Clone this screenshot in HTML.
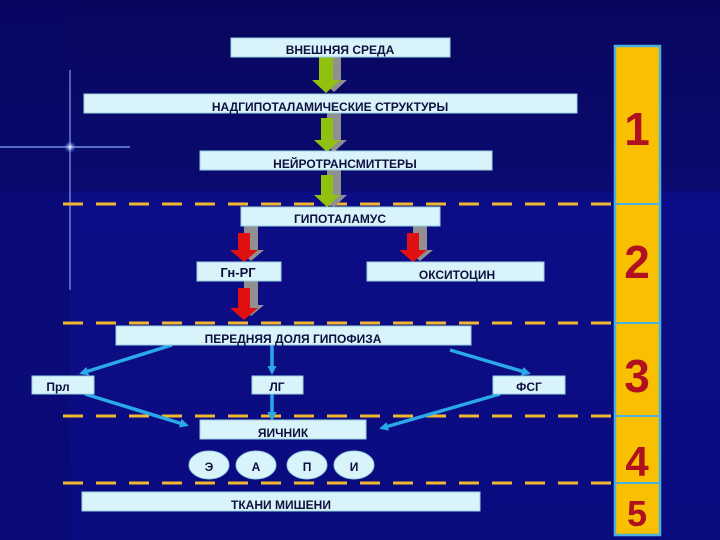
<!DOCTYPE html>
<html><head><meta charset="utf-8"><style>
body{margin:0;width:720px;height:540px;overflow:hidden;background:#0a0a6a;}
svg{display:block}
text{font-family:"Liberation Sans",sans-serif;font-weight:bold;fill:#101040;}
</style></head><body>
<svg width="720" height="540" viewBox="0 0 720 540">
<defs>
<linearGradient id="bg" x1="0" y1="0" x2="0" y2="1"><stop offset="0" stop-color="#07075e"/><stop offset="0.35" stop-color="#0a0a70"/><stop offset="0.36" stop-color="#0c0c86"/><stop offset="1" stop-color="#0b0b80"/></linearGradient>
<radialGradient id="fl"><stop offset="0" stop-color="#fff"/><stop offset="1" stop-color="#4080ff" stop-opacity="0"/></radialGradient>
<marker id="ah" markerWidth="9" markerHeight="9" refX="6" refY="4.5" orient="auto" markerUnits="userSpaceOnUse"><path d="M0,0 L9,4.5 L0,9 z" fill="#2aa8e8"/></marker>
</defs>
<rect width="720" height="540" fill="url(#bg)"/>
<rect x="0" y="0" width="70" height="540" fill="#080868" opacity="0.4"/>
<line x1="0" y1="147" x2="130" y2="147" stroke="#8fb0ff" stroke-width="1.5" opacity="0.8"/>
<line x1="70" y1="70" x2="70" y2="290" stroke="#8fb0ff" stroke-width="1.5" opacity="0.7"/>
<circle cx="70" cy="147" r="6" fill="url(#fl)"/>

<rect x="615" y="46" width="45" height="489" fill="#f8c000" stroke="#4ab0e0" stroke-width="2.5"/>
<g stroke="#4ab0e0" stroke-width="2"><line x1="615" y1="204" x2="660" y2="204"/><line x1="615" y1="323" x2="660" y2="323"/><line x1="615" y1="416" x2="660" y2="416"/><line x1="615" y1="483" x2="660" y2="483"/></g>
<g font-size="46" text-anchor="middle">
<text x="637" y="145" style="fill:#b01020">1</text><text x="637" y="278" style="fill:#b01020">2</text><text x="637" y="392" style="fill:#b01020">3</text><text x="637" y="476" font-size="42" style="fill:#b01020">4</text><text x="637" y="526" font-size="36" style="fill:#b01020">5</text>
</g>

<g stroke="#f0b830" stroke-width="3" stroke-dasharray="20,13">
<line x1="63" y1="204" x2="615" y2="204"/><line x1="63" y1="323" x2="615" y2="323"/><line x1="63" y1="416" x2="615" y2="416"/><line x1="63" y1="483" x2="615" y2="483"/>
</g>

<g>
<path d="M327,57 h14 v23 h6 l-13,12 l-13,-12 h6z" fill="#909090"/>
<path d="M319,57 h14 v23 h7 l-14,13 l-14,-13 h7z" fill="#90c010"/>
<path d="M327,113 h14 v27 h6 l-13,12 l-13,-12 h6z" fill="#909090"/>
<path d="M321,118 h12 v22 h7 l-13,12 l-13,-12 h7z" fill="#90c010"/>
<path d="M327,170 h14 v25 h6 l-13,12 l-13,-12 h6z" fill="#909090"/>
<path d="M321,175 h12 v20 h7 l-13,12 l-13,-12 h7z" fill="#90c010"/>
<path d="M244,226 h14 v24 h6 l-13,11 l-13,-11 h6z" fill="#909090"/>
<path d="M238,233 h12 v17 h8 l-14,12 l-14,-12 h8z" fill="#e01010"/>
<path d="M413,226 h14 v24 h6 l-13,11 l-13,-11 h6z" fill="#909090"/>
<path d="M407,233 h12 v17 h8 l-14,12 l-14,-12 h8z" fill="#e01010"/>
<path d="M244,281 h14 v24 h6 l-13,11 l-13,-11 h6z" fill="#909090"/>
<path d="M238,288 h12 v20 h8 l-14,12 l-14,-12 h8z" fill="#e01010"/>
</g>

<g stroke="#2aa8e8" stroke-width="3.5" fill="none" marker-end="url(#ah)">
<line x1="172" y1="345" x2="82" y2="373"/>
<line x1="272" y1="345" x2="272" y2="372"/>
<line x1="450" y1="350" x2="528" y2="373"/>
<line x1="85" y1="394" x2="186" y2="425"/>
<line x1="272" y1="394" x2="272" y2="418"/>
<line x1="500" y1="394" x2="382" y2="428"/>
</g>

<g fill="#d8f4fa" stroke="#9ad0e0" stroke-width="1">
<rect x="231" y="38" width="219" height="19"/>
<rect x="84" y="94" width="493" height="19"/>
<rect x="200" y="151" width="292" height="19"/>
<rect x="241" y="207" width="199" height="19"/>
<rect x="197" y="262" width="84" height="19"/>
<rect x="367" y="262" width="177" height="19"/>
<rect x="116" y="326" width="355" height="19"/>
<rect x="32" y="376" width="62" height="18"/>
<rect x="252" y="376" width="51" height="18"/>
<rect x="493" y="376" width="72" height="18"/>
<rect x="200" y="420" width="166" height="19"/>
<rect x="82" y="492" width="398" height="19"/>
<ellipse cx="209" cy="465" rx="20" ry="14"/>
<ellipse cx="256" cy="465" rx="20" ry="14"/>
<ellipse cx="307" cy="465" rx="20" ry="14"/>
<ellipse cx="354" cy="465" rx="20" ry="14"/>
</g>
<g font-size="12" text-anchor="middle">
<text x="340" y="54">ВНЕШНЯЯ СРЕДА</text>
<text x="330" y="111">НАДГИПОТАЛАМИЧЕСКИЕ СТРУКТУРЫ</text>
<text x="345" y="168">НЕЙРОТРАНСМИТТЕРЫ</text>
<text x="340" y="223">ГИПОТАЛАМУС</text>
<text x="238" y="277" font-size="13">Гн-РГ</text>
<text x="457" y="279">ОКСИТОЦИН</text>
<text x="293" y="343">ПЕРЕДНЯЯ ДОЛЯ ГИПОФИЗА</text>
<text x="58" y="391">Прл</text>
<text x="277" y="391">ЛГ</text>
<text x="529" y="391">ФСГ</text>
<text x="283" y="437">ЯИЧНИК</text>
<text x="209" y="471">Э</text><text x="256" y="471">А</text><text x="307" y="471">П</text><text x="354" y="471">И</text>
<text x="281" y="509">ТКАНИ МИШЕНИ</text>
</g>
</svg>
</body></html>
